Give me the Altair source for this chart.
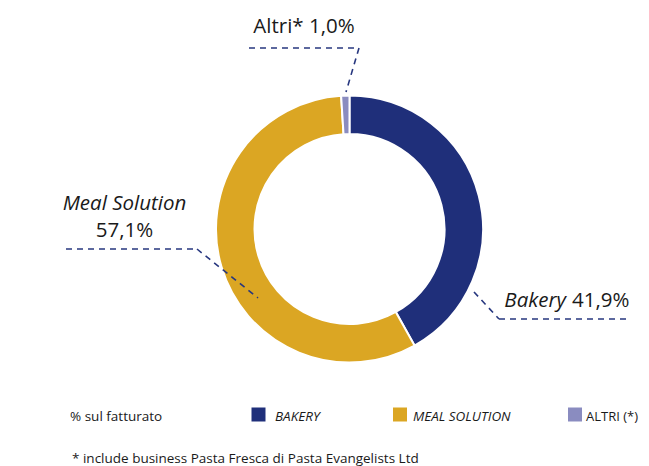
import altair as alt
import pandas as pd

# ---- data ----
categories = ["Bakery", "Meal Solution", "Altri"]
values = [41.9, 57.1, 1.0]
colors = ["#1f2f7a", "#dba623", "#8a8cc0"]
label_names = ["Bakery", "Meal Solution", "Altri*"]
legend_labels = ["BAKERY", "MEAL SOLUTION", "ALTRI (*)"]
legend_italic = [True, True, False]
legend_title = "% sul fatturato"
footnote = "* include business Pasta Fresca di Pasta Evangelists Ltd"


def fmt(v):
    return f"{v:.1f}".replace(".", ",") + "%"


W, H = 633, 458
FONT = "Open Sans"
TXT = "#1a1a1a"
LINE = "#27377f"
BIG = 20.5
SMALL = 13.5


def px(v):
    return v - 8


df = pd.DataFrame({"segmento": categories, "quota": values, "ordine": list(range(len(categories)))})

arc = alt.Chart(df).mark_arc(innerRadius=95, outerRadius=133.5, stroke="white", strokeWidth=2).encode(
    theta=alt.Theta("quota:Q", stack=True),
    color=alt.Color("segmento:N", scale=alt.Scale(domain=categories, range=colors), legend=None),
    order=alt.Order("ordine:Q"),
    x=alt.value(px(349.5)),
    y=alt.value(px(229)),
)


def txt(s, x, y, size, style="normal", align="left", color=TXT):
    return alt.Chart(pd.DataFrame({"t": [s]})).mark_text(
        align=align, baseline="alphabetic", font=FONT, fontSize=size, fontStyle=style, color=color
    ).encode(x=alt.value(px(x)), y=alt.value(px(y)), text="t:N")


def dash(x1, y1, x2, y2):
    return alt.Chart(pd.DataFrame({"a": [0]})).mark_rule(
        strokeDash=[6, 5], strokeWidth=1.6, color=LINE
    ).encode(x=alt.value(px(x1)), x2=alt.value(px(x2)), y=alt.value(px(y1)), y2=alt.value(px(y2)))


layers = [arc]

# Altri label
layers.append(txt(f"{label_names[2]} {fmt(values[2])}", 304, 33, BIG, align="center"))
layers.append(dash(249, 48, 359, 48))
layers.append(dash(359, 48, 346, 92))

# Meal Solution label
layers.append(txt(label_names[1], 124.5, 210, BIG, style="italic", align="center"))
layers.append(txt(fmt(values[1]), 124.5, 237, BIG, align="center"))
layers.append(dash(66, 249, 197, 249))
layers.append(dash(197, 249, 258, 298))

# Bakery label
layers.append(txt(label_names[0], 566, 307, BIG, style="italic", align="right"))
layers.append(txt(fmt(values[0]), 572, 307, BIG, align="left"))
layers.append(dash(474, 292, 499, 319))
layers.append(dash(499, 319, 628, 319))

# legend
layers.append(txt(legend_title, 70, 421, SMALL))
sq_x = [258.5, 400, 575]
tx_x = [275, 413, 586]
tx_size = [SMALL, SMALL, 13]
for i, lab in enumerate(legend_labels):
    layers.append(
        alt.Chart(pd.DataFrame({"a": [0]})).mark_square(size=196, color=colors[i], opacity=1).encode(
            x=alt.value(px(sq_x[i])), y=alt.value(px(414.5))
        )
    )
    layers.append(txt(lab, tx_x[i], 421, tx_size[i], style="italic" if legend_italic[i] else "normal"))

layers.append(txt(footnote, 72, 463, SMALL))

chart = alt.layer(*layers).properties(
    width=W, height=H, padding=0, autosize=alt.AutoSizeParams(type="none")
).configure_view(stroke=None)

chart.save("out.html", embed_options={"renderer": "svg", "actions": False})
